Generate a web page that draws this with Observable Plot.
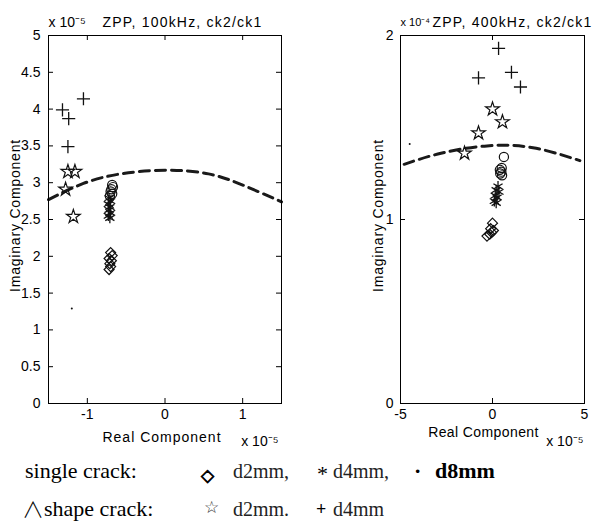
<!DOCTYPE html>
<html><head><meta charset="utf-8">
<script src="https://cdn.jsdelivr.net/npm/d3@7"></script>
<script src="https://cdn.jsdelivr.net/npm/@observablehq/plot@0.6"></script>
<style>
html,body{margin:0;padding:0;background:#fff;}
#wrap{position:relative;width:592px;height:524px;overflow:hidden;background:#fff;}
#left{position:absolute;left:0;top:0;}
#right{position:absolute;left:296px;top:0;}
#legend{position:absolute;left:0;top:0;}
</style></head><body>
<div id="wrap">
<div id="left"></div><div id="right"></div>
<svg id="legend" width="592" height="524" style="pointer-events:none">
  <g font-family="'Liberation Serif','Times New Roman',serif" fill="#000">
    <text x="25" y="478" font-size="22">single crack:</text>
    <text x="201" y="481" font-family="'DejaVu Sans',sans-serif" font-size="17" font-weight="bold" fill="#000" stroke="#000" stroke-width="0.8">◇</text>
    <text x="233" y="478" font-size="20" fill="#222">d2mm,</text>
    <text x="317" y="481" font-size="22">*</text>
    <text x="333" y="478" font-size="20" fill="#222">d4mm,</text>
    <text x="414" y="478" font-size="22" font-weight="bold">·</text>
    <text x="435" y="478" font-size="22" font-weight="bold">d8mm</text>
    <text x="22" y="516" font-size="22"><tspan font-family="'Noto Sans CJK SC','DejaVu Sans',sans-serif" font-size="22" font-weight="300" dy="1">∧</tspan><tspan dy="-1">shape crack:</tspan></text>
    <text x="204" y="513" font-family="'DejaVu Sans',sans-serif" font-size="17" fill="#333">☆</text>
    <text x="233" y="516" font-size="20" fill="#222">d2mm.</text>
    <text x="316" y="515" font-size="18" font-weight="bold">+</text>
    <text x="333" y="516" font-size="20" fill="#222">d4mm</text>
  </g>
</svg>
</div>
<script>
// ---------- Left panel: ZPP, 100kHz (x ×1e-5, y ×1e-5) ----------
const L_xTicks = [-1, 0, 1];
const L_yTicks = [0, 0.5, 1, 1.5, 2, 2.5, 3, 3.5, 4, 4.5, 5];
const L_single_d2 = [[-0.70,2.05],[-0.68,2.01],[-0.72,1.97],[-0.69,1.94],[-0.71,1.90],[-0.70,1.86],[-0.72,1.82]];
const L_single_d4 = [[-0.72,2.79],[-0.70,2.75],[-0.73,2.71],[-0.71,2.67],[-0.72,2.63],[-0.70,2.59],[-0.73,2.55],[-0.71,2.52]];
const L_single_d8 = [[-1.2,1.29]];
const L_circle = [[-0.68,2.97],[-0.67,2.94],[-0.69,2.91],[-0.70,2.88],[-0.68,2.85],[-0.71,2.82]];
const L_shape_d2 = [[-1.25,3.15],[-1.16,3.15],[-1.28,2.91],[-1.18,2.54]];
const L_shape_d4 = [[-1.05,4.14],[-1.32,3.99],[-1.24,3.87],[-1.25,3.49]];
const L_curveX = [-1.5,-1.05,-0.57,0,0.56,1.02,1.5];
const L_curveY = [2.77,2.99,3.12,3.17,3.12,2.96,2.74];

// ---------- Right panel: ZPP, 400kHz (x ×1e-5, y ×1e-4) ----------
const R_xTicks = [-5, 0, 5];
const R_yTicks = [0, 1, 2];
const R_single_d2 = [[0.0,0.98],[-0.1,0.95],[-0.05,0.93],[-0.3,0.91],[-0.15,0.92],[0.05,0.94]];
const R_single_d4 = [[0.3,1.18],[0.2,1.16],[0.35,1.15],[0.15,1.13],[0.25,1.12],[0.1,1.10],[0.2,1.09]];
const R_single_d8 = [[-4.5,1.41]];
const R_circle = [[0.62,1.34],[0.5,1.28],[0.4,1.27],[0.48,1.26],[0.42,1.25],[0.52,1.24]];
const R_shape_d2 = [[0.0,1.60],[0.54,1.53],[-0.76,1.47],[-1.52,1.36]];
const R_shape_d4 = [[0.33,1.93],[-0.76,1.77],[1.03,1.80],[1.52,1.72]];
const R_curveX = [-4.8,-2.8,-0.3,2.2,4.75];
const R_curveY = [1.30,1.36,1.40,1.39,1.32];

function panel(o) {
  const W = 296, H = 450, mt = 35, mb = 47;
  const pw = W - o.ml - o.mr, ph = H - mt - mb;
  const curve = o.curveX.map((x, i) => ({x, y: o.curveY[i]}));
  const pts = a => a.map(([x, y]) => ({x, y}));
  const fmt = d => String(d);
  const svg = Plot.plot({
    width: W, height: H,
    marginLeft: o.ml, marginRight: o.mr, marginTop: mt, marginBottom: mb,
    style: {fontFamily: "'Liberation Sans', Arial, sans-serif", fontSize: "14px", background: "white", color: "black", overflow: "visible"},
    x: {domain: o.xDomain},
    y: {domain: o.yDomain},
    marks: [
      Plot.tickY(o.yTicks, {y: d => d, insetRight: pw - 5, stroke: "black"}),
      Plot.tickY(o.yTicks, {y: d => d, insetLeft: pw - 5, stroke: "black"}),
      Plot.tickX(o.xTicks, {x: d => d, insetTop: ph - 5, stroke: "black"}),
      Plot.tickX(o.xTicks, {x: d => d, insetBottom: ph - 5, stroke: "black"}),
      Plot.axisY({ticks: o.yTicks, tickSize: 0, tickPadding: o.ytp, tickFormat: fmt, fontSize: 14, label: null}),
      Plot.axisX({ticks: o.xTicks, tickSize: 0, tickPadding: 6, tickFormat: fmt, fontSize: 14, label: null}),
      Plot.line(curve, {x: "x", y: "y", curve: "natural", stroke: "#1a1a1a", strokeWidth: 3, strokeDasharray: "10,6"}),
      Plot.dot(pts(o.single_d2), {x: "x", y: "y", symbol: "diamond2", r: 4.5, stroke: "#111", strokeWidth: 1.2}),
      Plot.dot(pts(o.single_d4), {x: "x", y: "y", symbol: "asterisk", r: 5, stroke: "#111", strokeWidth: 1.3}),
      Plot.dot(pts(o.circle), {x: "x", y: "y", symbol: "circle", r: 4.6, stroke: "#111", strokeWidth: 1.2, fill: "none"}),
      Plot.dot(pts(o.single_d8), {x: "x", y: "y", r: 1, fill: "#111", stroke: "none"}),
      Plot.dot(pts(o.shape_d2), {x: "x", y: "y", symbol: "star", r: 4.3, stroke: "#111", strokeWidth: 1.2, fill: "none"}),
      Plot.dot(pts(o.shape_d4), {x: "x", y: "y", symbol: "plus", r: 4.3, stroke: "#111", strokeWidth: 1.3}),
      Plot.frame({stroke: "black", strokeWidth: 1}),
      Plot.text([o.titleExp], {text: d => d, frameAnchor: "top-left", textAnchor: "start", lineAnchor: "middle", dy: -13, fontSize: o.expSize}),
      Plot.text([o.title], {text: d => d, frameAnchor: "top-left", textAnchor: "start", lineAnchor: "middle", dx: o.titleDx, dy: -13, fontSize: 14}),
      Plot.text(["Imaginary Component"], {text: d => d, frameAnchor: "left", textAnchor: "middle", lineAnchor: "middle", rotate: -90, dx: o.ylabDx, dy: -4, fontSize: 14}),
      Plot.text(["Real Component"], {text: d => d, frameAnchor: "bottom", textAnchor: "middle", lineAnchor: "middle", dx: o.xlabDx, dy: o.xlabDy, fontSize: 14}),
      Plot.text([o.axisExp], {text: d => d, frameAnchor: "bottom-right", textAnchor: "end", lineAnchor: "middle", dx: o.expDx, dy: o.expDy, fontSize: 14})
    ]
  });
  const sel = d3.select(svg).selectAll("text");
  sel.filter(function() { return this.textContent === "Imaginary Component"; }).attr("letter-spacing", "0.8px");
  sel.filter(function() { return this.textContent === "Real Component"; }).attr("letter-spacing", o.xlabLS);
  sel.filter(function() { return this.textContent.startsWith("ZPP"); }).attr("letter-spacing", "1.2px");
  return svg;
}

document.getElementById("left").appendChild(panel({
  ml: 48, mr: 15, ytp: 8,
  xDomain: [-1.5, 1.5], yDomain: [0, 5],
  xTicks: L_xTicks, yTicks: L_yTicks,
  single_d2: L_single_d2, single_d4: L_single_d4, single_d8: L_single_d8, circle: L_circle,
  shape_d2: L_shape_d2, shape_d4: L_shape_d4, curveX: L_curveX, curveY: L_curveY,
  titleExp: "x 10⁻⁵", expSize: 14, title: "ZPP, 100kHz, ck2/ck1", titleDx: 54,
  ylabDx: -33, xlabDx: -3, xlabDy: 34, xlabLS: "1px", expDx: -3, expDy: 38,
  axisExp: "x 10⁻⁵"
}));
document.getElementById("right").appendChild(panel({
  ml: 104, mr: 8, ytp: 7,
  xDomain: [-5, 5], yDomain: [0, 2],
  xTicks: R_xTicks, yTicks: R_yTicks,
  single_d2: R_single_d2, single_d4: R_single_d4, single_d8: R_single_d8, circle: R_circle,
  shape_d2: R_shape_d2, shape_d4: R_shape_d4, curveX: R_curveX, curveY: R_curveY,
  titleExp: "x 10⁻⁴", expSize: 11, title: "ZPP, 400kHz, ck2/ck1", titleDx: 32,
  ylabDx: -22, xlabDx: -9, xlabDy: 29, xlabLS: "0.4px", expDx: -1, expDy: 38,
  axisExp: "x 10⁻⁵"
}));
</script>
</body></html>
